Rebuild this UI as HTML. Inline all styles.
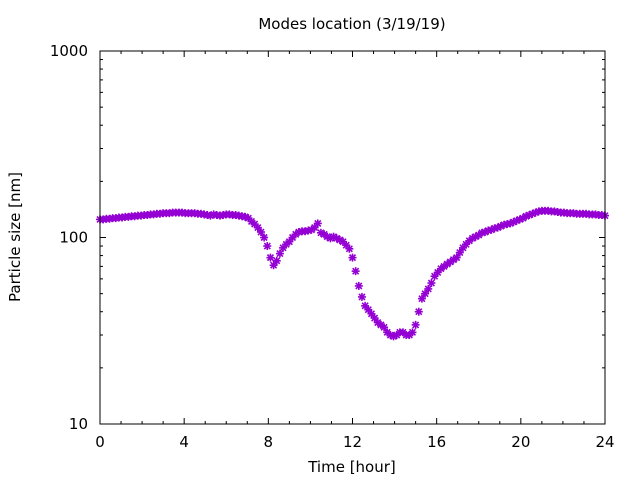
<!DOCTYPE html>
<html><head><meta charset="utf-8"><style>
body{margin:0;background:#fff;}
svg text{font-family:"DejaVu Sans","Liberation Sans",sans-serif;font-size:15px;fill:#000;}
</style></head><body>
<svg id="chart" width="640" height="480" xmlns="http://www.w3.org/2000/svg">
<text x="352" y="29" text-anchor="middle">Modes location (3/19/19)</text>
<text x="352" y="472" text-anchor="middle">Time [hour]</text>
<text transform="translate(20,237) rotate(-90)" text-anchor="middle">Particle size [nm]</text>
<g id="axes"></g>
<g id="marks"></g>
<rect x="100" y="51" width="505" height="373" fill="none" stroke="#000" stroke-width="1"/>
</svg>
<script>
const xTicks=[0,4,8,12,16,20,24];
const yTicks=[10,100,1000];
const step=0.15;
const sizes=[125,125,126,126,127,127,128,128,129,129,130,130,131,131,132,132,133,133,134,134,135,
135,135,136,136,136,136,135,135,135,135,134,134,133,132,
131,133,132,131,132,133,133,132,132,131,130,129,127,
122,118,113,107,100,90,78,
71,75,82,88,92,95,100,
104,107,108,108,109,110,113,119,
106,104,101,99,101,99,97,
95,91,87,78,
66,55,48,43,41,39,37,35,34,33,
31,30,29.5,30,31,31,30,30,
31,34,40,47,50,53,57,62,65,
68,70,72,74,76,78,83,
88,92,96,99,101,103,106,
107,109,110,112,113,115,117,118,119,121,123,125,127,
130,132,134,136,138,139,
139,139,138,138,137,136,136,135,135,135,134,134,134,134,133,133,133,132,132,131];
const hours=sizes.map((_,i)=>i*step);
const L=100,R=605,T=51,B=424;
const X=h=>L+(h-0)/(24-0)*(R-L);
const Y=v=>B-(Math.log10(v)-1)/2*(B-T);
const NS="http://www.w3.org/2000/svg";
const axes=document.getElementById('axes'),marks=document.getElementById('marks');
function ln(g,x1,y1,x2,y2,name){const e=document.createElementNS(NS,'line');
e.setAttribute('x1',x1);e.setAttribute('y1',y1);e.setAttribute('x2',x2);e.setAttribute('y2',y2);
e.setAttribute('stroke','#000');e.setAttribute('stroke-width','1');


g.appendChild(e);return e;}
function tx(x,y,s,anchor,name){const e=document.createElementNS(NS,'text');
e.setAttribute('x',x);e.setAttribute('y',y);e.setAttribute('text-anchor',anchor);e.textContent=s;


axes.appendChild(e);}
for(let h=0;h<=24;h++){const x=X(h);const len=(h%4===0)?6:3;
ln(axes,x,B,x,B-len,'x-tick');ln(axes,x,T,x,T+len,'x-tick-top');}
xTicks.forEach(t=>tx(X(t),447,String(t),'middle','x-tick-label'));
for(let d=10;d<1000;d*=10){for(let k=1;k<10;k++){const v=d*k;const y=Y(v);const len=k===1?6:3;
ln(axes,L,y,L+len,y,'y-tick');ln(axes,R,y,R-len,y,'y-tick-right');}}
ln(axes,L,T,L+6,T,'y-tick');ln(axes,R,T,R-6,T,'y-tick-right');
yTicks.forEach(t=>tx(L-12,Y(t)+5,String(t),'end','y-tick-label'));
hours.forEach((h,i)=>{const x=X(h),y=Y(sizes[i]);const g=document.createElementNS(NS,'g');


const r=4;
[[x-r,y,x+r,y],[x,y-r,x,y+r],[x-3,y-3,x+3,y+3],[x-3,y+3,x+3,y-3]].forEach(c=>{const e=ln(g,...c,'marker-stroke');e.setAttribute('stroke','#9400d3');e.setAttribute('stroke-width','1.6');});
marks.appendChild(g);});
</script>
</body></html>
